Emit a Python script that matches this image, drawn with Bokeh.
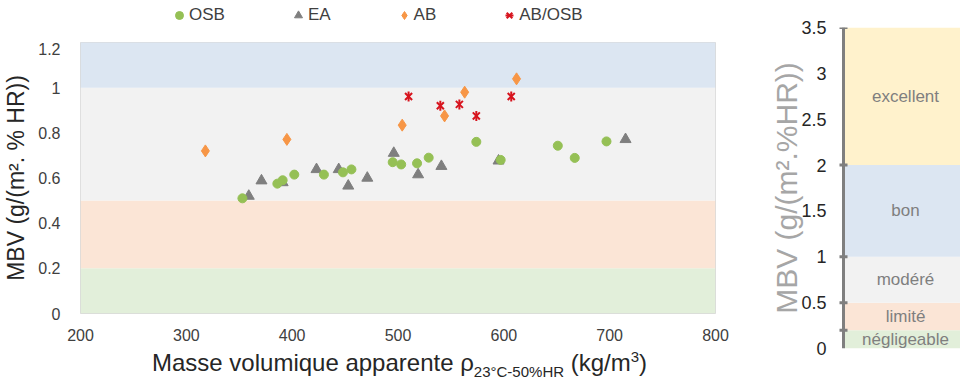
from bokeh.plotting import figure
from bokeh.models import Range1d, FixedTicker, Legend, LegendItem, Div, Spacer
from bokeh.layouts import row, column
from bokeh.embed import file_html
from bokeh.resources import INLINE
from bokeh.core.properties import value
import math

# ---------------- data ----------------
osb_x = [353, 386, 391, 402, 430, 448, 456, 495, 503, 518, 529, 574, 597, 651, 667, 697]
osb_y = [0.51, 0.575, 0.59, 0.615, 0.615, 0.625, 0.638, 0.67, 0.66, 0.665, 0.69, 0.76, 0.68, 0.743, 0.689, 0.762]
ea_x = [359, 371, 391, 423, 444, 453, 471, 496, 519, 541, 595, 715]
ea_y = [0.52, 0.588, 0.58, 0.638, 0.638, 0.565, 0.60, 0.71, 0.615, 0.652, 0.676, 0.771]
ab_x = [318, 395, 504, 544, 563, 612]
ab_y = [0.72, 0.771, 0.834, 0.875, 0.98, 1.039]
abosb_x = [510, 540, 558, 574, 607]
abosb_y = [0.961, 0.92, 0.926, 0.875, 0.961]

series_names = ["OSB", "EA", "AB", "AB/OSB"]

band_names = ["négligeable", "limité", "modéré", "bon", "excellent"]
band_lo = [0, 0.2, 0.5, 1, 2]
band_hi = [0.2, 0.5, 1, 2, 3.5]
band_colors = ["#E2EFDA", "#FBE5D6", "#F2F2F2", "#DCE6F2", "#FFF2CC"]

x_ticks = [200, 300, 400, 500, 600, 700, 800]
y_ticks = [0, 0.2, 0.4, 0.6, 0.8, 1.0, 1.2]
y_tick_labels = ["0", "0.2", "0.4", "0.6", "0.8", "1", "1.2"]
r_ticks = [0, 0.5, 1, 1.5, 2, 2.5, 3, 3.5]
r_tick_labels = ["0", "0.5", "1", "1.5", "2", "2.5", "3", "3.5"]

FONT = "Liberation Sans"
C_OSB, C_EA, C_AB, C_ABOSB = "#95C055", "#7F7F7F", "#F79646", "#D7141E"


def add_series(p, s_osb=9, s_ea=11, s_ab=12, s_x=10):
    r_ea = p.scatter(ea_x, ea_y, marker="triangle", size=s_ea, fill_color=C_EA, line_color=C_EA)
    r_osb = p.scatter(osb_x, osb_y, marker="circle", size=s_osb, fill_color=C_OSB, line_color=C_OSB)
    r_ab = p.scatter(ab_x, ab_y, marker="diamond", size=s_ab, fill_color=C_AB, line_color=C_AB)
    r_abx = p.scatter(abosb_x, abosb_y, marker="x", size=s_x, line_color=C_ABOSB, line_width=2)
    r_abd = p.scatter(abosb_x, abosb_y, marker="dash", size=s_x, angle=math.pi / 2,
                      line_color=C_ABOSB, line_width=2)
    return r_osb, r_ea, r_ab, r_abx, r_abd


# ---------------- legend strip (same series, y range kept away from the data) ----------------
p0 = figure(width=730, height=42, x_range=Range1d(0, 730), y_range=Range1d(100, 142),
            output_backend="svg", toolbar_location=None, min_border=0,
            x_axis_location=None, y_axis_location=None)
p0.grid.visible = False
p0.outline_line_color = None
l_osb, l_ea, l_ab, l_abx, l_abd = add_series(p0)
legend = Legend(items=[LegendItem(label=series_names[0], renderers=[l_osb]),
                       LegendItem(label=series_names[1], renderers=[l_ea]),
                       LegendItem(label=series_names[2], renderers=[l_ab]),
                       LegendItem(label=series_names[3], renderers=[l_abx, l_abd])],
                orientation="horizontal", location=(89, 17), padding=0, margin=0, spacing=63,
                glyph_width=20, glyph_height=20, label_height=20, label_standoff=0,
                label_text_font=FONT, label_text_font_size="17px", label_text_color="#404040",
                border_line_color=None, background_fill_alpha=0)
p0.add_layout(legend, "center")

# ---------------- left chart ----------------
x0, x1 = x_ticks[0], x_ticks[-1]
p1 = figure(width=730, height=301, x_range=Range1d(x0, x1), y_range=Range1d(y_ticks[0], y_ticks[-1]),
            output_backend="svg", toolbar_location=None,
            min_border_left=78, min_border_right=15, min_border_top=0, min_border_bottom=28)
p1.grid.visible = False
p1.outline_line_color = "#D9D9D9"

p1.quad(left=[x0] * len(band_lo), right=[x1] * len(band_lo), bottom=band_lo, top=band_hi,
        fill_color=band_colors, line_color=None)
add_series(p1)

for ax in (p1.xaxis[0], p1.yaxis[0]):
    ax.axis_line_color = None
    ax.major_tick_line_color = None
    ax.minor_tick_line_color = None
    ax.major_label_text_font = FONT
    ax.major_label_text_font_size = "16px"
    ax.major_label_text_color = "#404040"

p1.xaxis.ticker = FixedTicker(ticks=x_ticks)
p1.xaxis.major_label_standoff = 9
p1.yaxis.ticker = FixedTicker(ticks=y_ticks)
p1.yaxis.major_label_overrides = dict(zip(y_ticks, y_tick_labels))
p1.yaxis.major_label_standoff = 14
p1.yaxis.axis_label = "MBV (g/(m². % HR))"
p1.yaxis.axis_label_text_font = FONT
p1.yaxis.axis_label_text_font_size = "23px"
p1.yaxis.axis_label_text_font_style = "normal"
p1.yaxis.axis_label_text_color = "#262626"
p1.yaxis.axis_label_standoff = 6

xtitle = Div(text='Masse volumique apparente ρ<sub style="font-size:15px">23°C-50%HR</sub> (kg/m<sup style="font-size:15px">3</sup>)',
             width=560, height=38, margin=(0, 0, 0, 152),
             styles={"font-family": "Liberation Sans, Arial, sans-serif", "font-size": "24px",
                     "color": "#262626", "white-space": "nowrap", "line-height": "28px"})

# ---------------- right chart ----------------
band_right = 117
p2 = figure(width=202, height=381, x_range=Range1d(-5, band_right), y_range=Range1d(r_ticks[0], r_ticks[-1]),
            output_backend="svg", toolbar_location=None,
            min_border_left=80, min_border_right=0, min_border_top=27, min_border_bottom=33)
p2.grid.visible = False
p2.xaxis.visible = False
p2.outline_line_color = None

p2.quad(left=[0] * len(band_lo), right=[band_right] * len(band_lo), bottom=band_lo, top=band_hi,
        fill_color=band_colors, line_color=None)
band_mid = [(a + b) / 2 for a, b in zip(band_lo, band_hi)]
p2.text(x=[62] * len(band_mid), y=band_mid, text=band_names, text_align="center", text_baseline="middle",
        text_font=value(FONT), text_font_size="17px", text_color="#7F7F7F")

# axis line and boundary ticks of the scale
p2.segment(x0=[0], y0=[r_ticks[0]], x1=[0], y1=[r_ticks[-1]], line_width=3, line_color="#7F7F7F")
p2.segment(x0=[-4] * len(band_hi), y0=band_hi, x1=[4] * len(band_hi), y1=band_hi,
           line_width=3, line_color="#7F7F7F")

ya = p2.yaxis[0]
ya.ticker = FixedTicker(ticks=r_ticks)
ya.major_label_overrides = dict(zip(r_ticks, r_tick_labels))
ya.axis_line_color = None
ya.major_tick_line_color = None
ya.minor_tick_line_color = None
ya.major_label_standoff = 6
ya.major_label_text_font = FONT
ya.major_label_text_font_size = "18px"
ya.major_label_text_color = "#262626"
ya.axis_label = "MBV (g/(m².%HR))"
ya.axis_label_text_font = FONT
ya.axis_label_text_font_size = "30px"
ya.axis_label_text_font_style = "normal"
ya.axis_label_text_color = "#A6A6A6"
ya.axis_label_standoff = -5

layout = row(column(p0, p1, xtitle, spacing=0), Spacer(width=28, height=381), p2, spacing=0)

open("out.html", "w").write(file_html(layout, INLINE))
